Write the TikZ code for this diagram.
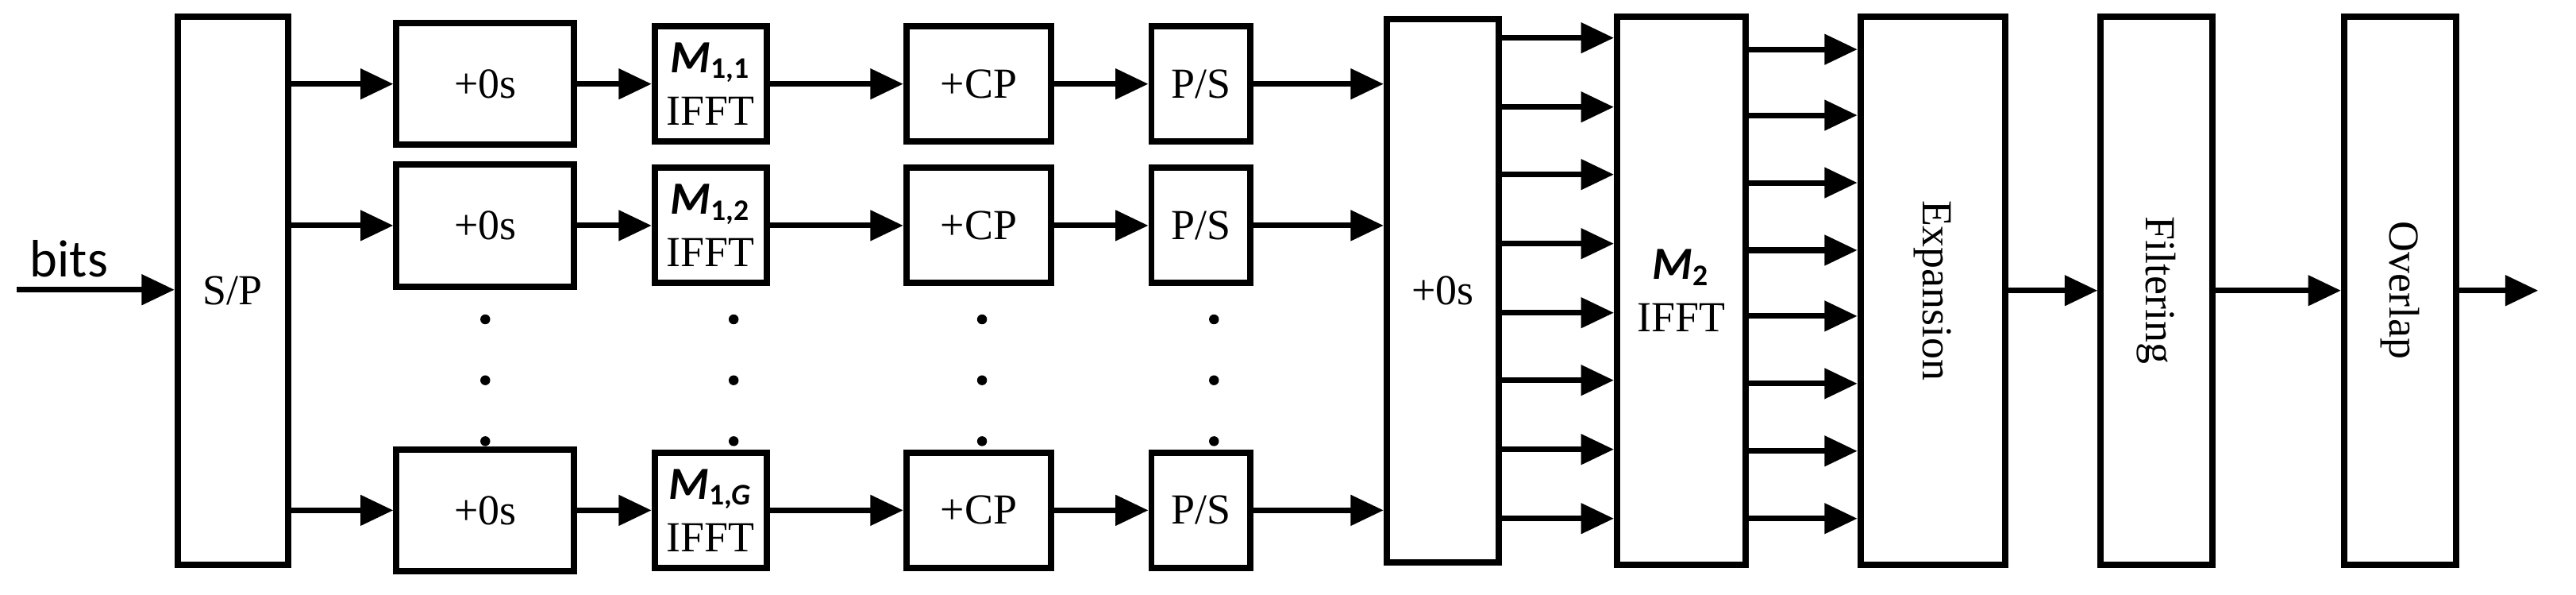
\documentclass[tikz,border=0pt]{standalone}
\usepackage{fontspec}
\setmainfont{Liberation Serif}
\newfontfamily\calib{Carlito}
\usetikzlibrary{arrows.meta}
\newcommand{\mlab}[1]{{\calib\bfseries\itshape\fontsize{14}{14}\selectfont M}\textsubscript{\calib\bfseries #1}}
\begin{document}
\begin{tikzpicture}[x=0.5pt,y=-0.5pt,
  blk/.style={draw,line width=1.9pt,inner sep=0pt,font=\fontsize{13}{16}\selectfont,align=center},
  arr/.style={line width=1.7pt,-{Triangle[length=10pt,width=9pt]}},
  dot/.style={circle,fill,inner sep=0pt,minimum size=3pt}]
\useasboundingbox (0,0) rectangle (1566,361);
\node[blk,minimum width=33.5pt,minimum height=166.5pt] (sp) at (141.5,176.5) {S/P};
\node[font=\calib\fontsize{16}{16}\selectfont] (bits) at (42,157) {bits};
\coordinate (in) at (10,176);
\draw[arr] (in) -- (sp.west |- in);
\foreach \r/\y/\s in {1/51/{1,1},2/137/{1,2},3/310/{1,\itshape G}}{
  \node[blk,minimum width=54pt,minimum height=37pt] (z\r) at (295,\y) {+0s};
  \node[blk,minimum width=34pt,minimum height=35pt] (m\r) at (432,\y) {\mlab{\s}\\IFFT};
  \node[blk,minimum width=44pt,minimum height=35pt] (c\r) at (595,\y) {+CP};
  \node[blk,minimum width=30pt,minimum height=35pt] (p\r) at (730,\y) {P/S};
  \draw[arr] (sp.east |- z\r.west) -- (z\r.west);
  \draw[arr] (z\r) -- (m\r);
  \draw[arr] (m\r) -- (c\r);
  \draw[arr] (c\r) -- (p\r);
}
\node[blk,minimum width=34pt,minimum height=165pt] (big) at (877,176.5) {+0s};
\node[blk,minimum width=39pt,minimum height=166.5pt] (m2) at (1022,176.5) {\mlab{2}\\IFFT};
\node[blk,minimum width=44pt,minimum height=166.5pt] (ex) at (1175,176.5) {\rotatebox{-90}{Expansion}};
\node[blk,minimum width=34pt,minimum height=166.5pt] (fi) at (1311,176.5) {\rotatebox{-90}{Filtering}};
\node[blk,minimum width=34pt,minimum height=166.5pt] (ov) at (1459,176.5) {\rotatebox{-90}{Overlap}};
\coordinate (out) at (1543,176.5);
\foreach \r in {1,2,3}{\draw[arr] (p\r) -- (big.west |- p\r);}
\foreach \y in {23,65,106,148,190,231,273,315}{\draw[arr] (big.east |- 0,\y) -- (m2.west |- 0,\y);}
\foreach \y in {30,70,111,152,192,233,274,315}{\draw[arr] (m2.east |- 0,\y) -- (ex.west |- 0,\y);}
\draw[arr] (ex) -- (fi);
\draw[arr] (fi) -- (ov);
\draw[arr] (ov) -- (out);
\foreach \x in {295,446,597,738}{
  \foreach \y in {194,231,268}{\node[dot] at (\x,\y) {};}}
\end{tikzpicture}
\end{document}
